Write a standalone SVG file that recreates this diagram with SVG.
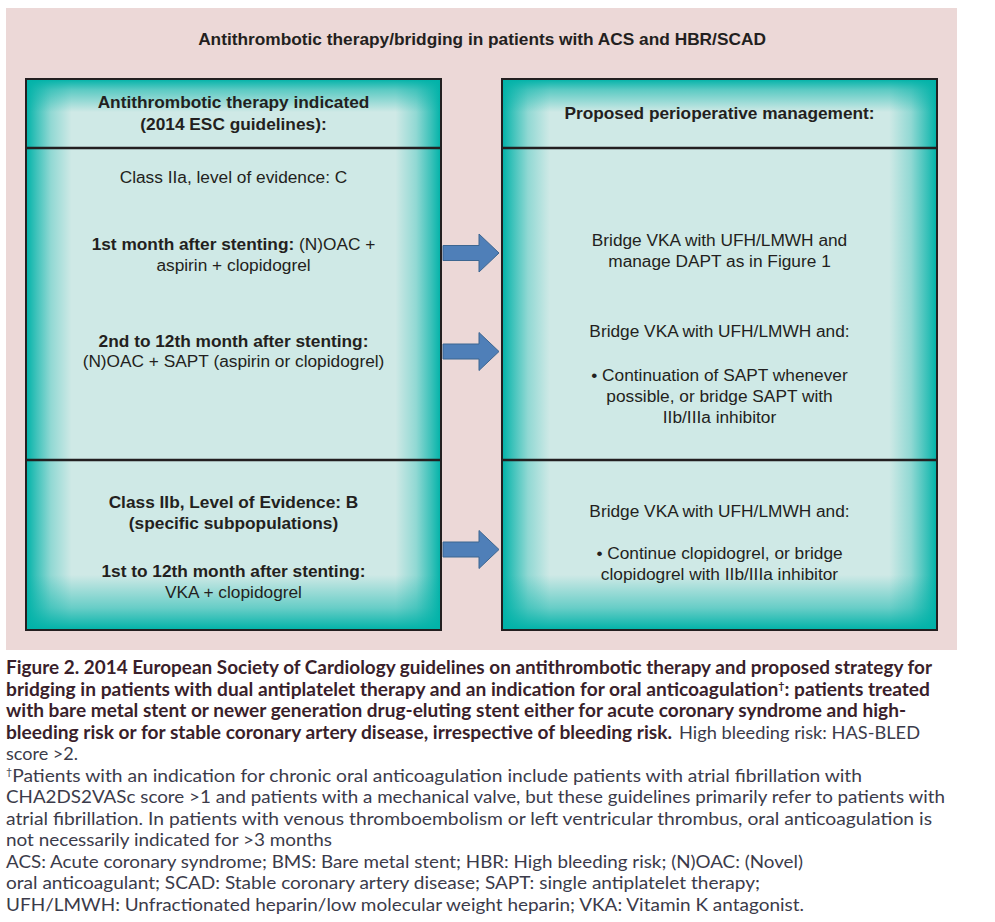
<svg xmlns="http://www.w3.org/2000/svg" width="995" height="922" viewBox="0 0 995 922">
<style>
.t{font-family:"Liberation Sans",Arial,sans-serif;font-size:17.3px;fill:#231f20;text-anchor:middle}
.b{font-weight:bold}
.cap{font-family:Lato,"Open Sans",sans-serif;font-size:18px}
.cb{font-weight:bold;fill:#3a1f2b}
.cr{fill:#3b3b4a}
.box{stroke:#231f20;stroke-width:2;fill:none}
.div{stroke:#231f20;stroke-width:2.5}
.arrow{fill:#4f7fb8;stroke:#3d6690;stroke-width:1}
</style>
<defs>
<linearGradient id="gh" x1="0" y1="0" x2="1" y2="0">
<stop offset="0" stop-color="#00b2a8" stop-opacity="1"/>
<stop offset="0.025" stop-color="#00b2a8" stop-opacity="0.7"/>
<stop offset="0.06" stop-color="#00b2a8" stop-opacity="0.3"/>
<stop offset="0.11" stop-color="#00b2a8" stop-opacity="0"/>
<stop offset="0.89" stop-color="#00b2a8" stop-opacity="0"/>
<stop offset="0.94" stop-color="#00b2a8" stop-opacity="0.3"/>
<stop offset="0.975" stop-color="#00b2a8" stop-opacity="0.7"/>
<stop offset="1" stop-color="#00b2a8" stop-opacity="1"/>
</linearGradient>
<linearGradient id="gv" x1="0" y1="0" x2="0" y2="1">
<stop offset="0" stop-color="#00b2a8" stop-opacity="1"/>
<stop offset="0.02" stop-color="#00b2a8" stop-opacity="0.55"/>
<stop offset="0.06" stop-color="#00b2a8" stop-opacity="0"/>
<stop offset="0.9" stop-color="#00b2a8" stop-opacity="0"/>
<stop offset="0.96" stop-color="#00b2a8" stop-opacity="0.5"/>
<stop offset="1" stop-color="#00b2a8" stop-opacity="1"/>
</linearGradient>
</defs>
<rect x="0" y="0" width="995" height="922" fill="#ffffff"/>
<rect id="background" x="6" y="8" width="951" height="642" fill="#ecd8d7"/>
<text id="title" class="t b" x="482" y="45">Antithrombotic therapy/bridging in patients with ACS and HBR/SCAD</text>

<g id="left-panel">
<rect x="26" y="79" width="415" height="551" fill="#cfe9e6"/>
<rect x="26" y="79" width="415" height="551" fill="url(#gh)"/>
<rect x="26" y="79" width="415" height="551" fill="url(#gv)"/>
<rect class="box" x="26" y="79" width="415" height="551"/>
<line class="div" x1="26" y1="148" x2="441" y2="148"/>
<line class="div" x1="26" y1="460" x2="441" y2="460"/>
</g>
<g id="left-header">
<text class="t b" x="233.5" y="108">Antithrombotic therapy indicated</text>
<text class="t b" x="233.5" y="130">(2014 ESC guidelines):</text>
</g>
<g id="left-class2a">
<text class="t" x="233.5" y="183">Class IIa, level of evidence: C</text>
<text class="t" x="233.5" y="250"><tspan class="b">1st month after stenting:</tspan> (N)OAC +</text>
<text class="t" x="233.5" y="271">aspirin + clopidogrel</text>
<text class="t b" x="233.5" y="347">2nd to 12th month after stenting:</text>
<text class="t" x="233.5" y="367">(N)OAC + SAPT (aspirin or clopidogrel)</text>
</g>
<g id="left-class2b">
<text class="t b" x="233.5" y="508">Class IIb, Level of Evidence: B</text>
<text class="t b" x="233.5" y="529">(specific subpopulations)</text>
<text class="t b" x="233.5" y="577">1st to 12th month after stenting:</text>
<text class="t" x="233.5" y="598">VKA + clopidogrel</text>
</g>

<g id="right-panel">
<rect x="502" y="79" width="435" height="551" fill="#cfe9e6"/>
<rect x="502" y="79" width="435" height="551" fill="url(#gh)"/>
<rect x="502" y="79" width="435" height="551" fill="url(#gv)"/>
<rect class="box" x="502" y="79" width="435" height="551"/>
<line class="div" x1="502" y1="148" x2="937" y2="148"/>
<line class="div" x1="502" y1="460" x2="937" y2="460"/>
</g>
<g id="right-header">
<text class="t b" x="719.5" y="119">Proposed perioperative management:</text>
</g>
<g id="right-mid">
<text class="t" x="719.5" y="246">Bridge VKA with UFH/LMWH and</text>
<text class="t" x="719.5" y="267">manage DAPT as in Figure 1</text>
<text class="t" x="719.5" y="337">Bridge VKA with UFH/LMWH and:</text>
<text class="t" x="719.5" y="381">• Continuation of SAPT whenever</text>
<text class="t" x="719.5" y="402">possible, or bridge SAPT with</text>
<text class="t" x="719.5" y="423">IIb/IIIa inhibitor</text>
</g>
<g id="right-bottom">
<text class="t" x="719.5" y="517">Bridge VKA with UFH/LMWH and:</text>
<text class="t" x="719.5" y="559">• Continue clopidogrel, or bridge</text>
<text class="t" x="719.5" y="580">clopidogrel with IIb/IIIa inhibitor</text>
</g>

<g id="connectors">
<polygon class="arrow" points="443,245.5 479,245.5 479,234 499,253 479,272 479,260.5 443,260.5"/>
<polygon class="arrow" points="443,344 479,344 479,332.5 499,351.5 479,370.5 479,359 443,359"/>
<polygon class="arrow" points="443,542 479,542 479,530.5 499,549.5 479,568.5 479,557 443,557"/>
</g>

<g id="caption" class="cap">
<text class="cb" x="6" y="674" textLength="926" lengthAdjust="spacingAndGlyphs">Figure 2. 2014 European Society of Cardiology guidelines on antithrombotic therapy and proposed strategy for</text>
<text class="cb" x="6" y="695.5" textLength="924" lengthAdjust="spacingAndGlyphs">bridging in patients with dual antiplatelet therapy and an indication for oral anticoagulation<tspan font-size="10" dy="-7">†</tspan><tspan dy="7">: patients treated</tspan></text>
<text class="cb" x="6" y="717" textLength="900" lengthAdjust="spacingAndGlyphs">with bare metal stent or newer generation drug-eluting stent either for acute coronary syndrome and high-</text>
<text class="cb" x="6" y="738.5" textLength="666" lengthAdjust="spacingAndGlyphs">bleeding risk or for stable coronary artery disease, irrespective of bleeding risk.</text>
<text class="cr" x="679" y="738.5" textLength="241" lengthAdjust="spacingAndGlyphs">High bleeding risk: HAS-BLED</text>
<text class="cr" x="6" y="760" textLength="72" lengthAdjust="spacingAndGlyphs">score &gt;2.</text>
<text class="cr" x="6" y="781.5" textLength="856" lengthAdjust="spacingAndGlyphs"><tspan font-size="10" dy="-7">†</tspan><tspan dy="7">Patients with an indication for chronic oral anticoagulation include patients with atrial fibrillation with</tspan></text>
<text class="cr" x="6" y="803" textLength="939" lengthAdjust="spacingAndGlyphs">CHA2DS2VASc score &gt;1 and patients with a mechanical valve, but these guidelines primarily refer to patients with</text>
<text class="cr" x="6" y="824.5" textLength="926" lengthAdjust="spacingAndGlyphs">atrial fibrillation. In patients with venous thromboembolism or left ventricular thrombus, oral anticoagulation is</text>
<text class="cr" x="6" y="846" textLength="326" lengthAdjust="spacingAndGlyphs">not necessarily indicated for &gt;3 months</text>
<text class="cr" x="6" y="867.5" textLength="797" lengthAdjust="spacingAndGlyphs">ACS: Acute coronary syndrome; BMS: Bare metal stent; HBR: High bleeding risk; (N)OAC: (Novel)</text>
<text class="cr" x="6" y="889" textLength="754" lengthAdjust="spacingAndGlyphs">oral anticoagulant; SCAD: Stable coronary artery disease; SAPT: single antiplatelet therapy;</text>
<text class="cr" x="6" y="910.5" textLength="798" lengthAdjust="spacingAndGlyphs">UFH/LMWH: Unfractionated heparin/low molecular weight heparin; VKA: Vitamin K antagonist.</text>
</g>
</svg>
